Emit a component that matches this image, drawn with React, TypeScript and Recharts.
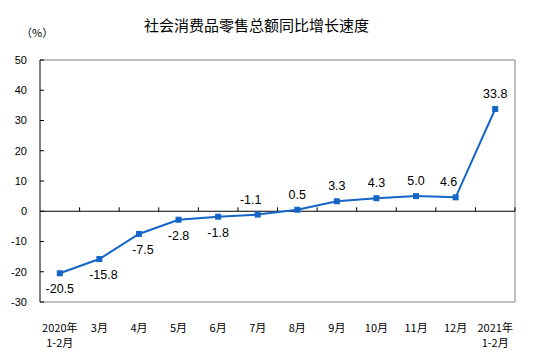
import { LineChart, Line, XAxis, YAxis, ReferenceLine } from "recharts";

const months = [
  "2020年\n1-2月",
  "3月",
  "4月",
  "5月",
  "6月",
  "7月",
  "8月",
  "9月",
  "10月",
  "11月",
  "12月",
  "2021年\n1-2月",
];
const growth = [-20.5, -15.8, -7.5, -2.8, -1.8, -1.1, 0.5, 3.3, 4.3, 5.0, 4.6, 33.8];
const yTicks = [-30, -20, -10, 0, 10, 20, 30, 40, 50];

const data = months.map((m, i) => ({ x: i + 0.5, value: growth[i], name: m }));
const tickPos = months.map((_, i) => i + 0.5);
const boundaries = months.map((_, i) => i + 1);

const BLUE = "#1565C8";
const CJK = "'Noto Sans CJK SC', sans-serif";

function MonthTick({ x, y, payload }: any) {
  const idx = Math.floor(payload.value);
  const lines = (months[idx] || "").split("\n");
  return (
    <g>
      {lines.map((t, k) => (
        <text
          key={k}
          x={x}
          y={y + 22 + k * 15}
          textAnchor="middle"
          fontSize={11}
          fontFamily={CJK}
          fill="#000"
        >
          {t}
        </text>
      ))}
    </g>
  );
}

function Square({ cx, cy }: any) {
  if (cx == null || cy == null) return null;
  return <rect x={cx - 3} y={cy - 3} width={6} height={6} fill={BLUE} />;
}

function ValueLabel({ x, y, value, index }: any) {
  const below = index < 5;
  // nudge labels that sit on a line segment to the left, like the original
  const shift = index === 5 || index === 10 ? -7 : index === 1 || index === 2 ? 4 : 0;
  return (
    <text
      x={x + shift}
      y={below ? y + 20 : y - 11}
      textAnchor="middle"
      fontSize={12.5}
      fontFamily="'Liberation Sans', Arial, sans-serif"
      fill="#000"
    >
      {value.toFixed(1)}
    </text>
  );
}

export default function App() {
  return (
    <div style={{ position: "absolute", left: 0, top: 0, width: 543, height: 360, background: "#fff" }}>
      <div
        style={{
          position: "absolute",
          left: 143,
          top: 14,
          width: 227,
          textAlign: "center",
          fontFamily: CJK,
          fontSize: 15,
          whiteSpace: "nowrap",
          color: "#000",
        }}
      >
        社会消费品零售总额同比增长速度
      </div>
      <div
        style={{
          position: "absolute",
          left: 21,
          top: 24,
          fontFamily: CJK,
          fontSize: 11,
          color: "#000",
        }}
      >
        （%）
      </div>
      <LineChart width={543} height={360} data={data} margin={{ top: 60, right: 28, bottom: 28, left: 8 }}>
        <XAxis
          type="number"
          dataKey="x"
          domain={[0, 12]}
          ticks={tickPos}
          tick={<MonthTick />}
          tickLine={false}
          axisLine={{ stroke: "#808080" }}
          height={30}
          interval={0}
          allowDataOverflow
        />
        <YAxis
          type="number"
          domain={[-30, 50]}
          ticks={yTicks}
          width={32}
          tickSize={-4}
          tickMargin={17}
          axisLine={{ stroke: "#000" }}
          tickLine={{ stroke: "#000" }}
          tick={{ fontSize: 11, fill: "#000", fontFamily: "'Liberation Sans', Arial, sans-serif" }}
          interval={0}
        />
        <ReferenceLine y={50} stroke="#808080" />
        <ReferenceLine x={12} stroke="#808080" />
        <ReferenceLine y={0} stroke="#000" />
        {boundaries.map((b) => (
          <ReferenceLine
            key={b}
            segment={[
              { x: b, y: 0 },
              { x: b, y: 1.3 },
            ]}
            stroke="#000"
          />
        ))}
        <Line
          type="linear"
          dataKey="value"
          stroke={BLUE}
          strokeWidth={2}
          dot={<Square />}
          activeDot={false}
          label={<ValueLabel />}
          isAnimationActive={false}
        />
      </LineChart>
    </div>
  );
}
